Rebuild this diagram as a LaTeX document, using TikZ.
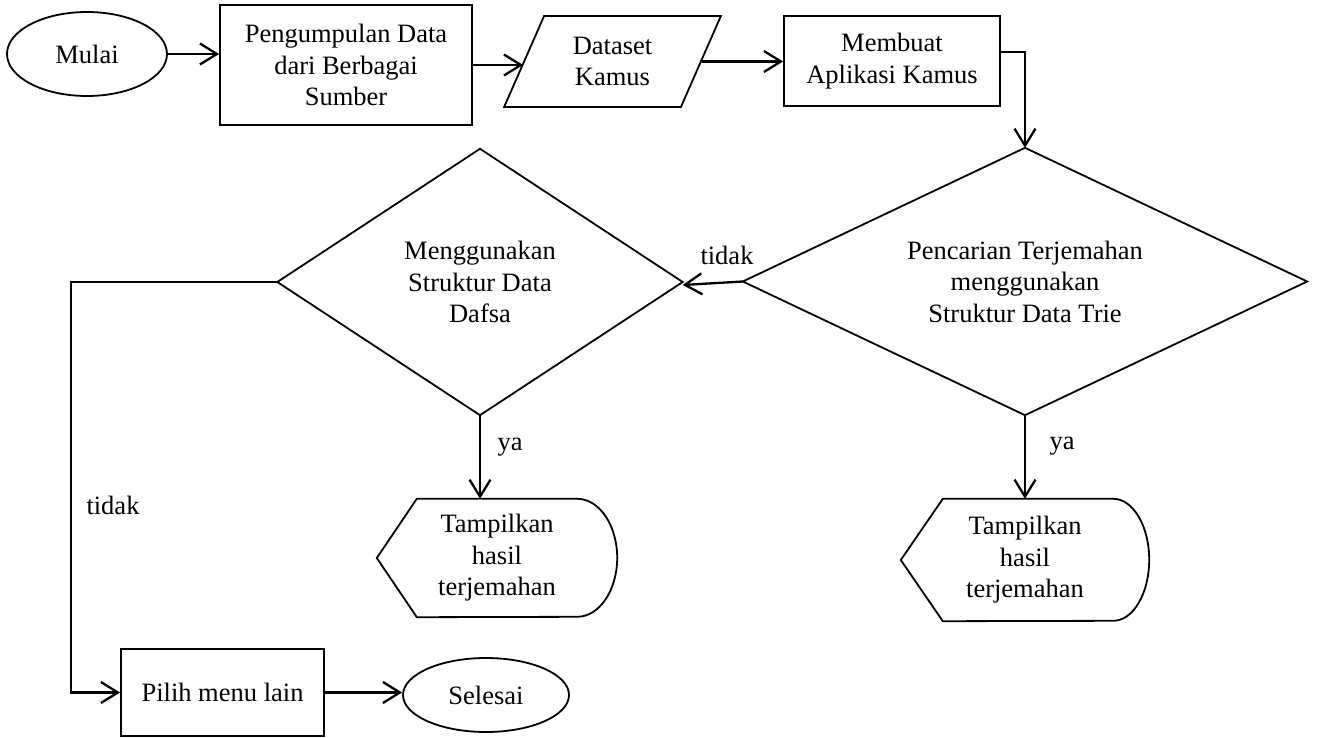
\documentclass[tikz,border=0pt]{standalone}
\usepackage{fontspec}
\setmainfont{Liberation Serif}
\usetikzlibrary{shapes.geometric,arrows.meta,calc}
\begin{document}
\begin{tikzpicture}[x=1pt,y=-1pt,
  every node/.style={font=\fontsize{26.5}{31.5}\selectfont, align=center, inner sep=0pt},
  outline/.style={draw, line width=1.8pt},
  terminal/.style={outline, ellipse},
  process/.style={outline, rectangle},
  io/.style={outline, trapezium, trapezium stretches=true,
    trapezium left angle=64.7, trapezium right angle=115.3},
  frame/.style={rectangle},
  flow/.style={line width=2.3pt, -{Straight Barb[length=17pt,width=21pt]}},
  line join=miter]

\useasboundingbox (0,0) rectangle (1317,738);

% top row
\node[terminal, minimum width=160pt, minimum height=84pt] (start) at (87,54) {Mulai};
\node[process, minimum width=252pt, minimum height=120pt] (collect) at (346,65)
  {Pengumpulan Data\\dari Berbagai\\Sumber};
\node[io, minimum width=217pt, minimum height=91pt] (data) at (612.5,61.5) {Dataset\\Kamus};
\node[process, minimum width=216pt, minimum height=90pt] (app) at (892,61)
  {Membuat\\Aplikasi Kamus};

% decisions: diamonds drawn through the frame's side midpoints
\node[frame, minimum width=564pt, minimum height=267pt] (trie) at (1025,281.5)
  {Pencarian Terjemahan\\menggunakan\\Struktur Data Trie};
\draw[outline] (trie.north) -- (trie.east) -- (trie.south) -- (trie.west) -- cycle;
\node[frame, minimum width=405pt, minimum height=266pt] (dafsa) at (480,282)
  {Menggunakan\\Struktur Data\\Dafsa};
\draw[outline] (dafsa.north) -- (dafsa.east) -- (dafsa.south) -- (dafsa.west) -- cycle;

% display outputs
\node[frame, minimum width=240pt, minimum height=118pt] (showA) at (497,558)
  {Tampilkan\\hasil\\terjemahan};
\draw[outline] (showA.west) -- ($(showA.north west)+(40,0)$)
  -- ($(showA.north east)+(-40,0)$)
  arc[start angle=90, end angle=-90, x radius=40pt, y radius=59pt]
  -- ($(showA.south west)+(40,0)$) -- cycle;

\node[frame, minimum width=248pt, minimum height=122pt] (showB) at (1025,560)
  {Tampilkan\\hasil\\terjemahan};
\draw[outline] (showB.west) -- ($(showB.north west)+(42,0)$)
  -- ($(showB.north east)+(-36,0)$)
  arc[start angle=90, end angle=-90, x radius=36pt, y radius=61pt]
  -- ($(showB.south west)+(42,0)$) -- cycle;

% bottom row
\node[process, minimum width=203pt, minimum height=87pt] (menu) at (222.5,692.5) {Pilih menu lain};
\node[terminal, minimum width=166pt, minimum height=74pt] (finish) at (486,695) {Selesai};

% branch labels
\node (noA) at (727,255) {tidak};
\node (yesA) at (510,447) {ya};
\node (yesB) at (1062,446) {ya};
\node (noB) at (113,505) {tidak};

% connectors
\coordinate (bend) at (71,282);
\draw[flow] (start.east) -- (start.east -| collect.west);
\draw[flow] (collect.east) -- (collect.east -| data.left side);
\draw[flow] (data.right side) -- (data.right side -| app.west);
\draw[flow] ([yshift=9pt]app.east) -| (trie.north);
\draw[flow] (trie.west) -- ([yshift=-3pt]dafsa.east);
\draw[flow] (dafsa.south) -- (dafsa.south |- showA.north);
\draw[flow] (trie.south) -- (trie.south |- showB.north);
\draw[flow] (dafsa.west) -- (bend) |- (menu.west);
\draw[flow] (menu.east) -- (menu.east -| finish.west);
\end{tikzpicture}
\end{document}
